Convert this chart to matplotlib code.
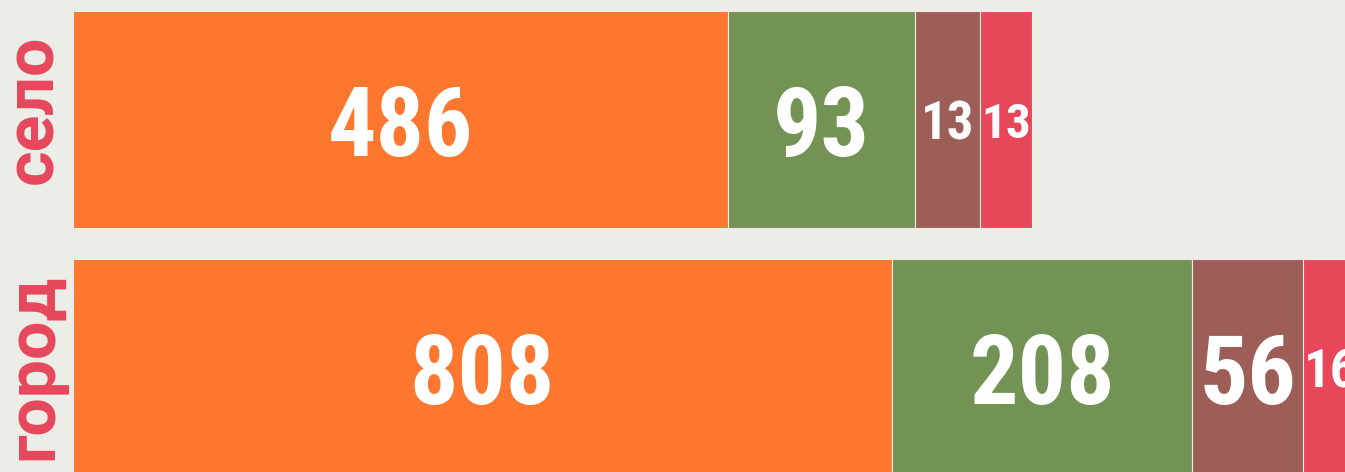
import matplotlib.pyplot as plt
import numpy as np

categories = ["село", "город"]
# printed counts on each segment
labels_selo = [486, 93, 13, 13]
labels_gorod = [808, 208, 56, 16]
# segment lengths as drawn (not proportional to the printed counts)
lengths_selo = [655, 187, 65, 52]
lengths_gorod = [819, 300, 111, 56]

colors = ["#FE772E", "#739355", "#9E5E58", "#E84659"]
bg = "#EBEDE6"
label_color = "#E6485C"
num_font = ["Liberation Sans Narrow", "Roboto Condensed", "DejaVu Sans"]

fig = plt.figure(figsize=(13.45, 4.72), dpi=100, facecolor=bg)
ax = fig.add_axes([73 / 1345, 0, 1 - 73 / 1345, 1])
ax.set_facecolor(bg)

rows = [(labels_selo, lengths_selo), (labels_gorod, lengths_gorod)]
for i, (labs, lens) in enumerate(rows):
    left = np.concatenate([[0], np.cumsum(lens)[:-1]])
    ax.barh(i, lens, left=left, height=0.875, color=colors,
            edgecolor=bg, linewidth=0.8)
    for lab, l0, w in zip(labs, left, lens):
        size = 69 if w > 100 else min(38, w * 0.68)
        ax.text(l0 + w / 2, i, str(lab), ha="center", va="center_baseline",
                color="white", fontsize=size, fontweight="bold",
                family=num_font)

ax.set_xlim(0, 1345 - 73)
ax.set_ylim(-0.482 + 472 / 248, -0.482)
ax.set_axis_off()

label_y = [109, 367]
for cat, y in zip(categories, label_y):
    fig.text(34 / 1345, 1 - y / 472, cat, rotation=90,
             ha="center", va="center", color=label_color, fontsize=49,
             fontweight="bold", family=["Roboto", "DejaVu Sans"])

fig.savefig("out.png", dpi=100, facecolor=bg)
